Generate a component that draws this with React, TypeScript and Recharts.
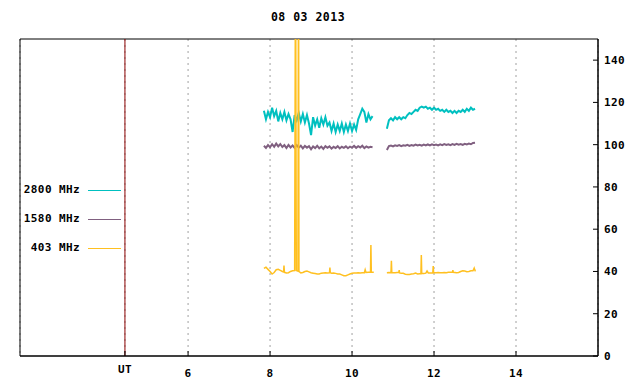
import React from 'react';
import { LineChart, Line, XAxis, YAxis, CartesianGrid, ReferenceLine, ReferenceArea, Legend } from 'recharts';

const FONT = '"DejaVu Sans Mono", monospace';
const TITLE = '08 03 2013';

const seriesNames = ['2800 MHz', '1580 MHz', '403 MHz'];
const seriesColors = ['#00c0c0', '#806080', '#ffc020'];

const xTicks = [4.46, 6, 8, 10, 12, 14];
const xTickLabels = ['UT', '6', '8', '10', '12', '14'];
const yTicks = [0, 20, 40, 60, 80, 100, 120, 140];

const times1 = [7.85, 7.9, 7.95, 8.0, 8.05, 8.1, 8.15, 8.2, 8.25, 8.3, 8.35, 8.4, 8.45, 8.5, 8.55, 8.6, 8.65, 8.7, 8.75, 8.8, 8.85, 8.9, 8.95, 9.0, 9.05, 9.1, 9.15, 9.2, 9.25, 9.3, 9.35, 9.4, 9.45, 9.5, 9.55, 9.6, 9.65, 9.7, 9.75, 9.8, 9.85, 9.9, 9.95, 10.0, 10.05, 10.1, 10.15, 10.2, 10.25, 10.3, 10.35, 10.4, 10.45, 10.5];
const cyan1 = [116, 112, 115.5, 113, 117.5, 113.5, 116, 111, 115, 112, 115.5, 111.5, 114.5, 112, 106, 114, 111.5, 115, 111, 114.5, 110.5, 114, 110, 104.5, 113, 109, 112, 108, 112.5, 109.5, 113, 109, 110.5, 106.5, 110, 106, 109.5, 106.5, 110, 106, 109.5, 106.5, 110, 106.5, 109.5, 107, 112, 114.5, 117, 115.5, 110.5, 114.5, 112, 113.5];
const purple1 = [99.5, 98.5, 99.8, 98.8, 100.2, 99, 100.5, 99.2, 100.3, 98.9, 99.8, 98.4, 99.9, 98.7, 99.6, 98.5, 99.8, 98.6, 99.5, 98.2, 99.4, 98.6, 99.3, 97.8, 99.2, 98.4, 99.5, 98.3, 99.1, 98.0, 99.3, 98.5, 99.2, 98.1, 99.0, 98.4, 99.3, 98.2, 99.0, 98.5, 99.2, 98.3, 99.1, 98.6, 99.4, 98.5, 99.3, 98.7, 99.5, 98.4, 99.2, 98.6, 99.0, 98.8];

const times2 = [10.85, 10.9, 10.95, 11.0, 11.05, 11.1, 11.15, 11.2, 11.25, 11.3, 11.35, 11.4, 11.45, 11.5, 11.55, 11.6, 11.65, 11.7, 11.75, 11.8, 11.85, 11.9, 11.95, 12.0, 12.05, 12.1, 12.15, 12.2, 12.25, 12.3, 12.35, 12.4, 12.45, 12.5, 12.55, 12.6, 12.65, 12.7, 12.75, 12.8, 12.85, 12.9, 12.95, 13.0];
const cyan2 = [107.5, 111.5, 112.5, 111.5, 113, 112, 113, 112, 113, 112.5, 114, 115, 114.5, 115.5, 116.5, 116, 117.5, 118, 117.5, 118, 117, 117.5, 116.5, 117.5, 116.5, 117, 116, 116.5, 115.5, 116.5, 115.5, 116, 115, 116, 115, 116, 115.5, 116.5, 115.5, 117, 116, 117.5, 116.5, 117];
const purple2 = [97.5, 99.3, 99.6, 99.2, 99.7, 99.4, 99.8, 99.3, 99.7, 99.5, 99.9, 99.4, 99.8, 99.5, 100.0, 99.6, 99.9, 99.5, 100.0, 99.6, 100.1, 99.7, 100.2, 99.8, 100.1, 99.7, 100.2, 99.8, 100.3, 99.9, 100.2, 99.8, 100.3, 99.9, 100.4, 100.0, 100.3, 99.9, 100.4, 100.1, 100.5, 100.2, 100.8, 100.9];

const orangeT1 = [7.85, 7.9, 7.95, 8.0, 8.05, 8.1, 8.15, 8.2, 8.25, 8.3, 8.33, 8.34, 8.35, 8.4, 8.45, 8.5, 8.55, 8.6, 8.622, 8.64, 8.68, 8.695, 8.705, 8.75, 8.8, 8.85, 8.9, 8.95, 9.0, 9.05, 9.1, 9.15, 9.2, 9.25, 9.3, 9.35, 9.4, 9.45, 9.46, 9.47, 9.5, 9.55, 9.6, 9.65, 9.7, 9.75, 9.8, 9.85, 9.9, 9.95, 10.0, 10.05, 10.1, 10.15, 10.2, 10.25, 10.3, 10.32, 10.34, 10.4, 10.45, 10.46, 10.47, 10.53];
const orangeV1 = [41.5, 42, 41, 40, 38.8, 39.5, 40.8, 41, 40.5, 40, 39.8, 42.8, 39.6, 39.3, 39.4, 40, 40.3, 40.4, 200, 40.5, 40.2, 200, 40, 39.3, 39.5, 40, 40.2, 39.8, 39.4, 39.2, 39, 38.8, 38.8, 39.2, 39.3, 39.4, 39.3, 39.4, 41.8, 39.4, 39.2, 39.3, 39.1, 38.8, 38.8, 38.4, 38, 38, 38.4, 38.8, 39.2, 39.3, 39.3, 39.4, 39.3, 39.4, 39.4, 40.8, 39.5, 39.6, 39.6, 52.5, 39.6, 39.6];
const orangeT2 = [10.85, 10.9, 10.95, 10.96, 10.97, 11.05, 11.1, 11.14, 11.15, 11.16, 11.2, 11.25, 11.3, 11.35, 11.4, 11.45, 11.5, 11.55, 11.6, 11.65, 11.68, 11.69, 11.7, 11.75, 11.8, 11.83, 11.86, 11.9, 11.95, 11.97, 11.98, 11.99, 12.05, 12.1, 12.15, 12.2, 12.25, 12.3, 12.35, 12.4, 12.45, 12.46, 12.47, 12.55, 12.6, 12.65, 12.7, 12.75, 12.8, 12.85, 12.9, 12.95, 12.98, 13.0, 13.02];
const orangeV2 = [39.4, 39.5, 39.4, 45, 39.4, 39.4, 39.5, 39.5, 40.6, 39.3, 39.1, 39.1, 38.7, 38.6, 38.6, 38.8, 38.9, 39.2, 38.8, 38.9, 38.9, 47.8, 39, 39, 39.2, 40.2, 39.3, 39.3, 39.3, 39.3, 42.6, 39.4, 39.4, 39.5, 39.4, 39.4, 39.5, 39.4, 39.6, 39.6, 39.6, 40.6, 39.6, 39.4, 39.5, 40, 40.3, 40.2, 39.9, 40, 40.3, 40.3, 41.6, 40.4, 40.5];

const GAP_T = 10.7;

function seg(ts: number[], vs: number[]) {
  return ts.map((t, i) => ({ t, v: vs[i] }));
}
function joined(a: { t: number; v: number | null }[], b: { t: number; v: number | null }[]) {
  return [...a, { t: GAP_T, v: null }, ...b];
}

const cyanData = joined(seg(times1, cyan1), seg(times2, cyan2));
const purpleData = joined(seg(times1, purple1), seg(times2, purple2));
const orangeData = joined(seg(orangeT1, orangeV1), seg(orangeT2, orangeV2));

const XTick = (props: any) => {
  const { x, y, payload } = props;
  const idx = xTicks.indexOf(payload.value);
  const label = idx >= 0 ? xTickLabels[idx] : String(payload.value);
  const isUT = label === 'UT';
  return (
    <text x={x} y={y + (isUT ? 8 : 12)} textAnchor="middle" fill="#000" fontFamily={FONT} fontWeight="bold" fontSize={11} letterSpacing={0.4}>
      {label}
    </text>
  );
};

const LegendContent = () => (
  <div style={{ fontFamily: FONT, fontWeight: 'bold', fontSize: 11, color: '#000', letterSpacing: 0.4 }}>
    {seriesNames.map((n, i) => (
      <div key={n} style={{ display: 'flex', alignItems: 'flex-start', height: 29 }}>
        <span style={{ width: 60, textAlign: 'right', whiteSpace: 'pre', lineHeight: '13px', height: 13 }}>{n}</span>
        <span style={{ display: 'block', width: 33, height: 1, background: seriesColors[i], marginLeft: 8, marginTop: 7 }} />
      </div>
    ))}
  </div>
);

export default function App() {
  return (
    <div style={{ position: 'absolute', left: 0, top: 0, width: 640, height: 384, background: '#fff' }}>
      <div style={{ position: 'absolute', left: 0, top: 11, width: 616, textAlign: 'center', fontFamily: FONT, fontWeight: 'bold', fontSize: 11.5, lineHeight: '13px', color: '#000', letterSpacing: 0.5 }}>
        {TITLE}
      </div>
      <LineChart width={640} height={384} margin={{ top: 39, right: 0, left: 20, bottom: 0 }}>
        <CartesianGrid horizontal={false} stroke="#a0a0a0" strokeDasharray="2 4" />
        <XAxis
          dataKey="t"
          type="number"
          domain={[1.9, 16]}
          ticks={xTicks}
          allowDataOverflow
          height={28}
          tickSize={-5}
          tickMargin={14}
          tick={<XTick />}
          tickLine={{ stroke: '#000' }}
          axisLine={{ stroke: '#000' }}
          interval={0}
        />
        <YAxis
          orientation="right"
          type="number"
          domain={[0, 150]}
          ticks={yTicks}
          allowDataOverflow
          width={42}
          tickSize={-5}
          tickMargin={11}
          tick={{ fill: '#000', fontFamily: FONT, fontWeight: 'bold', fontSize: 11, letterSpacing: 0.4 }}
          tickLine={{ stroke: '#000' }}
          axisLine={{ stroke: '#000' }}
          interval={0}
        />
        <ReferenceArea x1={1.9} x2={16} y1={0} y2={150} fill="none" stroke="#000" strokeOpacity={1} fillOpacity={0} />
        <ReferenceLine x={4.46} stroke="#8b0000" strokeWidth={1} />
        <Legend
          layout="vertical"
          align="center"
          verticalAlign="middle"
          content={<LegendContent />}
          wrapperStyle={{ position: 'absolute', left: 20, top: 183, width: 110, height: 90 }}
        />
        <Line data={cyanData} dataKey="v" name={seriesNames[0]} type="linear" stroke={seriesColors[0]} strokeWidth={2} dot={false} isAnimationActive={false} connectNulls={false} />
        <Line data={purpleData} dataKey="v" name={seriesNames[1]} type="linear" stroke={seriesColors[1]} strokeWidth={2} dot={false} isAnimationActive={false} connectNulls={false} />
        <Line data={orangeData} dataKey="v" name={seriesNames[2]} type="linear" stroke={seriesColors[2]} strokeWidth={1.5} dot={false} isAnimationActive={false} connectNulls={false} />
      </LineChart>
    </div>
  );
}
